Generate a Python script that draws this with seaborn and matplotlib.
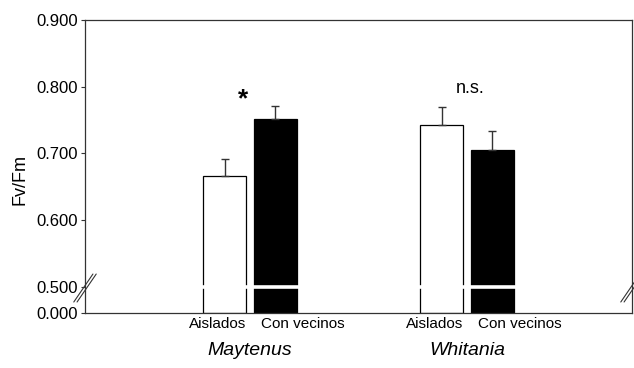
import numpy as np
import pandas as pd
import matplotlib
matplotlib.use("Agg")
import matplotlib.pyplot as plt
import seaborn as sns

species = ["Maytenus", "Maytenus", "Whitania", "Whitania"]
treatment = ["Aislados", "Con vecinos", "Aislados", "Con vecinos"]
means = [0.666, 0.752, 0.743, 0.705]
upper = [0.691, 0.771, 0.769, 0.733]
yticks = [0.0, 0.5, 0.6, 0.7, 0.8, 0.9]
ytick_labels = ["0.000", "0.500", "0.600", "0.700", "0.800", "0.900"]
groups = ["Maytenus", "Whitania"]
annotations = ["*", "n.s."]

df = pd.DataFrame({"species": species, "treatment": treatment, "Fv/Fm": means})

sns.set_theme(style="white")
plt.rcParams["font.family"] = ["Liberation Sans", "DejaVu Sans"]

# broken axis: 0-0.5 compressed
BREAK = 0.039
def fwd(v):
    v = np.asarray(v, dtype=float)
    return np.where(v < 0.5, v / 0.5 * BREAK, BREAK + (v - 0.5))
def inv(d):
    d = np.asarray(d, dtype=float)
    return np.where(d < BREAK, d / BREAK * 0.5, d - BREAK + 0.5)

fig = plt.figure(figsize=(6.34, 3.68), dpi=100)
ax = fig.add_axes([85 / 634, 1 - 313 / 368, (632 - 85) / 634, (313 - 20) / 368])
ax.set_yscale("function", functions=(fwd, inv))

sns.barplot(data=df, x="species", y="Fv/Fm", hue="treatment",
            palette={"Aislados": "white", "Con vecinos": "black"},
            edgecolor="black", linewidth=0.9, width=0.465, gap=0.15,
            legend=False, ax=ax, zorder=1)

bars = sorted(ax.patches, key=lambda p: p.get_x())
xs = [p.get_x() + p.get_width() / 2 for p in bars]
ax.errorbar(xs, means, yerr=[np.zeros(4), np.array(upper) - np.array(means)],
            fmt="none", ecolor="#333333", elinewidth=1, capsize=2.6, capthick=1, zorder=2)

ax.set_ylim(0, 0.9)
ax.set_xlim(-0.76, 1.76)
ax.set_yticks(yticks)
ax.set_yticklabels(ytick_labels)
ax.yaxis.set_minor_locator(matplotlib.ticker.NullLocator())
ax.tick_params(axis="y", which="major", left=True, length=3, width=0.8, color="#333333",
               labelsize=12, pad=2, labelcolor="black")
ax.set_xticks([])
ax.set_xlabel("")
ax.set_ylabel("Fv/Fm", fontsize=13, color="black")
ax.yaxis.set_label_coords(-0.104, 0.455)

for s in ax.spines.values():
    s.set_visible(True)
    s.set_color("#333333")
    s.set_linewidth(0.9)

# white break line across bars at 0.5
ax.axhline(0.497, color="white", linewidth=2.6, zorder=2.2)

# break marks on spines
tr = ax.transAxes
for xa in (0.0, 1.0):
    for off in (-0.003, 0.003):
        ax.plot([xa - 0.0175 + off, xa + 0.0175 + off], [0.0375, 0.133], transform=tr,
                color="#333333", linewidth=0.8, clip_on=False, zorder=5)

blend = matplotlib.transforms.blended_transform_factory(ax.transData, ax.transAxes)
# treatment labels (offset from bar centers like the original)
label_shift = {"Aislados": -0.035, "Con vecinos": 0.125}
for x, t in zip(xs, treatment):
    ax.text(x + label_shift[t], -0.038, t, transform=blend, ha="center", va="center",
            fontsize=11, color="black")

# group labels and annotations
for i, (sp, ann) in enumerate(zip(groups, annotations)):
    ax.text(i, -0.128, sp, transform=blend, ha="center", va="center",
            fontsize=14, style="italic", color="black")
    if ann == "*":
        ax.text(i - 0.032, 0.781, ann, ha="center", va="center", fontsize=19,
                fontweight="bold", color="black")
    else:
        ax.text(i + 0.014, 0.797, ann, ha="center", va="center", fontsize=13,
                color="black")

fig.savefig("out.png", dpi=100)
